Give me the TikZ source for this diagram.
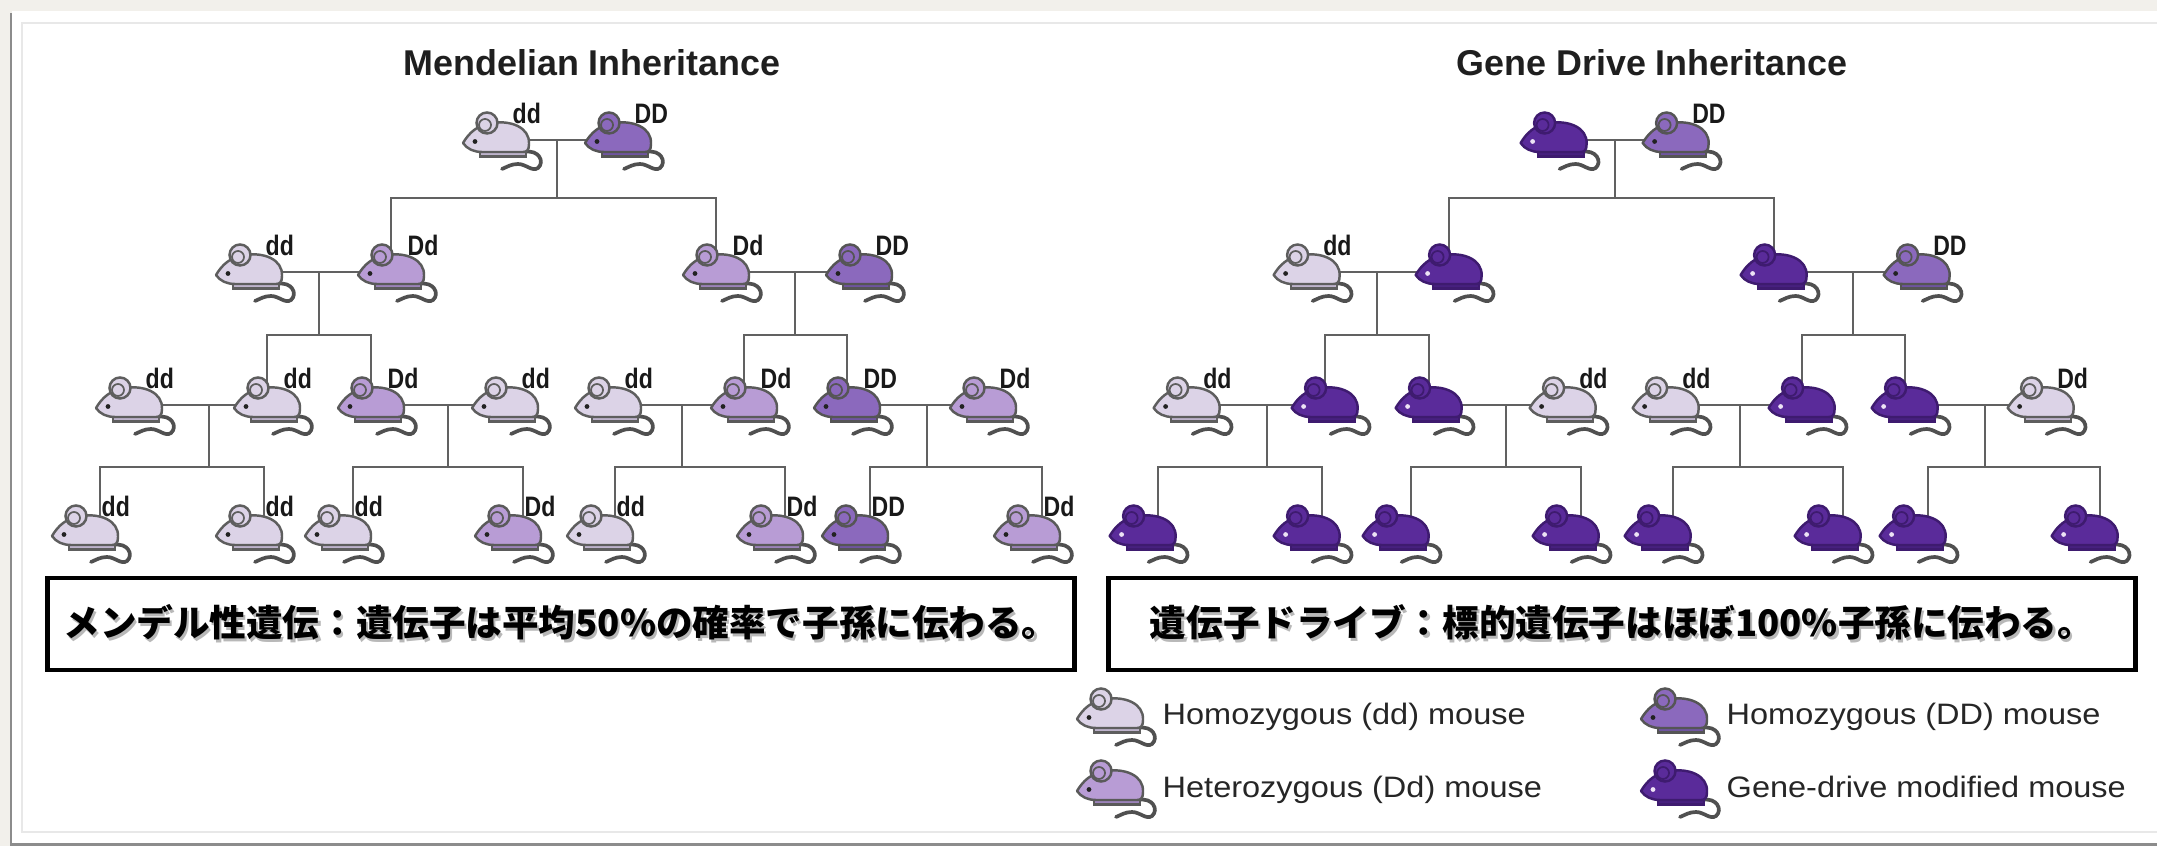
\documentclass[tikz,border=0pt]{standalone}
\usepackage{fontspec}
\setmainfont{Liberation Sans}
\newfontfamily\genofont[FakeStretch=0.82]{Liberation Sans}
\newfontfamily\keyfont[FakeStretch=1.1]{Liberation Sans}
\newfontfamily\jpfont{Noto Sans CJK JP}
\usetikzlibrary{shadows}

\pgfdeclarelayer{paper}
\pgfdeclarelayer{wires}
\pgfsetlayers{paper,wires,main}

% coat colours, one set per genotype
\definecolor{dd-body}{HTML}{DCD3E7}
\definecolor{dd-feet}{HTML}{BEB3CC}
\definecolor{dd-line}{HTML}{5E5E5E}
\definecolor{dd-eye}{HTML}{222222}
\definecolor{Dd-body}{HTML}{B89CD5}
\definecolor{Dd-feet}{HTML}{9C83BA}
\definecolor{Dd-line}{HTML}{5A5A5A}
\definecolor{Dd-eye}{HTML}{222222}
\definecolor{DD-body}{HTML}{8B69BD}
\definecolor{DD-feet}{HTML}{6F54A0}
\definecolor{DD-line}{HTML}{555555}
\definecolor{DD-eye}{HTML}{222222}
\definecolor{gd-body}{HTML}{5A2B9A}
\definecolor{gd-feet}{HTML}{47207F}
\definecolor{gd-line}{HTML}{3E1B6F}
\definecolor{gd-eye}{HTML}{EDE3F5}
\definecolor{mtail}{HTML}{505050}
\definecolor{paper}{HTML}{F2F0EB}

\newcommand\shadowed[1]{\rlap{\kern.6pt\raisebox{-.8pt}{\color{black!28}#1}}#1}

\begin{document}
\begin{tikzpicture}[x=.01cm, y=-.01cm,
    wire/.style={draw=black!62, line width=.6pt},
    geno/.style={font=\genofont\bfseries\fontsize{8}{9}\selectfont, inner sep=0pt, text=black!90},
    title/.style={font=\bfseries\fontsize{10.2}{12}\selectfont, inner sep=0pt, text=black!88, anchor=base},
    key/.style={font=\keyfont\fontsize{8.4}{10}\selectfont, inner sep=0pt, text=black!85, anchor=base west},
    capbox/.style={draw, line width=1.3pt, fill=white, minimum width=10.26cm, minimum height=.92cm,
      inner sep=0pt, drop shadow={shadow xshift=.4pt, shadow yshift=-.7pt, fill=black!30},
      font=\jpfont\bfseries\fontsize{10.4}{12}\selectfont},
    pics/mouse/.style 2 args={code={
      \coordinate (-o) at (0,0);
      \coordinate (-ear) at (0,-18);
      \coordinate (-back) at (15,-15);
      % tail, feet, body, ear, eye
      \draw[draw=mtail, line width=1.05pt, line cap=round] (28,12) .. controls (43,9) and (49,22) .. (42,28)
        .. controls (36,32) and (30,24) .. (22,24) .. controls (15,24) and (11,27) .. (6,29);
      \filldraw[fill=#1-feet, draw=#1-line, line width=.6pt] (-16,11) rectangle (30,16.5);
      \filldraw[fill=#1-body, draw=#1-line, line width=.7pt, line join=round]
        (-33,3) .. controls (-27,-7) and (-19,-15) .. (-4,-17)
        .. controls (14,-20) and (34,-13) .. (33,4)
        .. controls (33,10) and (31,12) .. (27,12) -- (-14,12)
        .. controls (-22,12) and (-29,9) .. cycle;
      \filldraw[fill=#1-body, draw=#1-line, line width=.7pt] (-9,-17) circle (10.5);
      \draw[draw=#1-line, line width=.5pt] (-11,-15) circle (6);
      \fill[#1-eye] (-21,1.5) circle (2.4);
      \edef\mlabel{#2}
      \ifx\mlabel\empty\else \node[geno, anchor=base west] (-tag) at (16,-16) {\mlabel}; \fi
    }}]

  \useasboundingbox (0,0) rectangle (2157,846);

  % sheet
  \begin{pgfonlayer}{paper}
    \fill[paper] (0,0) rectangle (2157,846);
    \fill[black!45] (10,13) rectangle (2160,847);
    \fill[white] (12,11) rectangle (2160,843);
    \draw[black!9, line width=.3pt] (22,23) rectangle (2170,832);
  \end{pgfonlayer}

  \node[title] (tMend) at (592,76) {Mendelian Inheritance};
  \node[title] (tDrive) at (1652,76) {Gene Drive Inheritance};

  % Mendelian tree
  \foreach \x/\gt/\lb [count=\i] in {496/dd/dd, 618/DD/DD}
    \pic (L1\i) at (\x,140) {mouse={\gt}{\lb}};
  \foreach \x/\gt/\lb [count=\i] in {249/dd/dd, 391/Dd/Dd, 716/Dd/Dd, 859/DD/DD}
    \pic (L2\i) at (\x,272) {mouse={\gt}{\lb}};
  \foreach \x/\gt/\lb [count=\i] in {129/dd/dd, 267/dd/dd, 371/Dd/Dd, 505/dd/dd,
      608/dd/dd, 744/Dd/Dd, 847/DD/DD, 983/Dd/Dd}
    \pic (L3\i) at (\x,405) {mouse={\gt}{\lb}};
  \foreach \x/\gt/\lb [count=\i] in {85/dd/dd, 249/dd/dd, 338/dd/dd, 508/Dd/Dd,
      600/dd/dd, 770/Dd/Dd, 855/DD/DD, 1027/Dd/Dd}
    \pic (L4\i) at (\x,533) {mouse={\gt}{\lb}};

  % gene drive tree, same crosses shifted right
  \begin{scope}[xshift=10.57cm]
    \foreach \x/\gt/\lb [count=\i] in {496/gd/, 618/DD/DD}
      \pic (R1\i) at (\x,140) {mouse={\gt}{\lb}};
    \foreach \x/\gt/\lb [count=\i] in {249/dd/dd, 391/gd/, 716/gd/, 859/DD/DD}
      \pic (R2\i) at (\x,272) {mouse={\gt}{\lb}};
    \foreach \x/\gt/\lb [count=\i] in {129/dd/dd, 267/gd/, 371/gd/, 505/dd/dd,
        608/dd/dd, 744/gd/, 847/gd/, 983/dd/Dd}
      \pic (R3\i) at (\x,405) {mouse={\gt}{\lb}};
    \foreach \x [count=\i] in {85, 249, 338, 508, 600, 770, 855, 1027}
      \pic (R4\i) at (\x,533) {mouse={gd}{}};
  \end{scope}

  % crosses: couple bar, drop, offspring bar
  \begin{pgfonlayer}{wires}
    \foreach \side/\dx in {L/0cm, R/10.57cm}{
      \begin{scope}[xshift=\dx]
        \foreach \j/\jx/\jy in {1/557/198, 2/319/335, 3/795/335, 4/209/467,
            5/448/467, 6/682/467, 7/927/467}
          \coordinate (\side J\j) at (\jx,\jy);
      \end{scope}
      \foreach \j/\pa/\pb/\ka/\kb/\anc in {1/11/12/22/23/ear, 2/21/22/32/33/ear,
          3/23/24/36/37/ear, 4/31/32/41/42/back, 5/33/34/43/44/back,
          6/35/36/45/46/back, 7/37/38/47/48/back}
        \draw[wire] (\side\pa-o) -- (\side\pb-o)
          (\side J\j |- \side\pa-o) -- (\side J\j)
          (\side\ka-\anc) |- (\side J\j) -| (\side\kb-\anc);
    }
  \end{pgfonlayer}

  % summary boxes
  \node[capbox] (capL) at (561,624) {\shadowed{メンデル性遺伝：遺伝子は平均50\%の確率で子孫に伝わる。}};
  \node[capbox] (capR) at (1622,624) {\shadowed{遺伝子ドライブ：標的遺伝子はほぼ100\%子孫に伝わる。}};

  % key
  \pic (k1) at (1110,716) {mouse={dd}{}};
  \node[key] (k1t) at (1162,725) {Homozygous (dd) mouse};
  \pic (k2) at (1674,716) {mouse={DD}{}};
  \node[key] (k2t) at (1726,725) {Homozygous (DD) mouse};
  \pic (k3) at (1110,788) {mouse={Dd}{}};
  \node[key] (k3t) at (1162,797) {Heterozygous (Dd) mouse};
  \pic (k4) at (1674,788) {mouse={gd}{}};
  \node[key] (k4t) at (1726,797) {Gene-drive modified mouse};
\end{tikzpicture}
\end{document}
